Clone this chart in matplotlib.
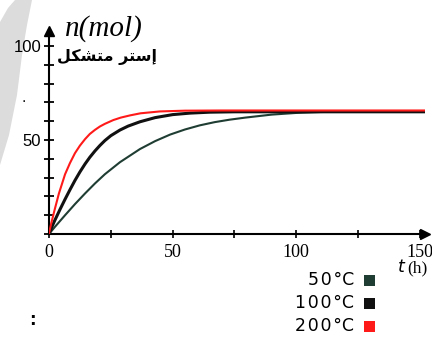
import matplotlib
matplotlib.use("Agg")
import matplotlib.pyplot as plt
from matplotlib.patches import Polygon, Rectangle

# ---- data ----
t_200 = [0, 1, 2.4, 4, 6.5, 8.5, 10.5, 12.5, 14.6, 16.5, 18.6, 20.6, 22.6, 26, 29, 32.8, 37, 44.9, 55, 70, 100, 130, 152]
n_200 = [0.5, 6.2, 13.5, 21.5, 31.8, 37.8, 43, 47, 50.5, 53.2, 55.4, 57.2, 58.6, 60.6, 61.9, 63.1, 64.2, 65.2, 65.6, 65.7, 65.7, 65.7, 65.7]

t_100 = [0, 1, 2.4, 4.5, 6.5, 8.5, 10.5, 12.5, 14.6, 16.5, 18.6, 20.6, 22.6, 25, 28.7, 32, 36.8, 42.9, 50, 57, 65, 75, 100, 152]
n_100 = [0, 3.3, 7.4, 13.2, 18.5, 23.6, 28.5, 33, 37.3, 40.8, 44.2, 47.1, 49.7, 52.3, 55.3, 57.4, 59.7, 61.9, 63.5, 64.3, 64.8, 65, 65, 65]

t_50 = [0, 2.4, 6.5, 10.5, 14.6, 18.6, 22.6, 28.7, 36.8, 42.9, 49, 55, 61, 67, 73, 79.3, 90, 100, 110, 120, 152]
n_50 = [0, 3.8, 10.0, 15.9, 21.6, 26.9, 31.8, 38.2, 45.2, 49.4, 52.9, 55.6, 57.8, 59.5, 60.8, 61.9, 63.5, 64.4, 64.9, 65, 65]

series_labels = ["50°C", "100°C", "200°C"]
series_colors = ["#1f3d33", "#111111", "#ff1a1a"]

x_ticks = [0, 25, 50, 75, 100, 125, 150]
x_ticklabels = ["0", "", "50", "", "100", "", "150"]
y_ticks = [0, 10, 20, 30, 40, 50, 60, 70, 80, 90, 100]
y_ticklabels = ["", "", "", "", "", "50", "", "", "", "", "100"]

W, H = 432, 345
fig = plt.figure(figsize=(W / 100, H / 100), dpi=100)
fig.patch.set_facecolor("white")

def fx(px):
    return px / W

def fy(py):
    return 1 - py / H

# gray watermark-like shape at left edge (behind everything)
shape = [(15, 0), (32, 0), (27, 25), (22, 55), (17, 95), (9, 135), (0, 165), (0, 22), (8, 8)]
fig.patches.append(Polygon([(fx(a), fy(b)) for a, b in shape], closed=True,
                           transform=fig.transFigure, facecolor="#dcdcdc",
                           edgecolor="none", zorder=-5))

x0, y0 = 49, 234
sx, sy = 2.473, 1.88
xmax, ymax = 152, 108
ax = fig.add_axes([fx(x0), fy(y0), xmax * sx / W, ymax * sy / H])
ax.set_zorder(1)
ax.set_facecolor("none")
ax.set_xlim(0, xmax)
ax.set_ylim(0, ymax)

for s in ["top", "right"]:
    ax.spines[s].set_visible(False)
for s in ["left", "bottom"]:
    ax.spines[s].set_linewidth(1.5)
    ax.spines[s].set_color("black")

ax.plot(1, 0, ">", color="black", ms=7, transform=ax.get_yaxis_transform(), clip_on=False)
ax.plot(0, 1, "^", color="black", ms=7, transform=ax.get_xaxis_transform(), clip_on=False)

ax.plot(t_50, n_50, color=series_colors[0], lw=1.5, zorder=3, solid_joinstyle="round")
ax.plot(t_100, n_100, color=series_colors[1], lw=2.2, zorder=4, solid_joinstyle="round")
ax.plot(t_200, n_200, color=series_colors[2], lw=1.5, zorder=5, solid_joinstyle="round")

ax.set_xticks(x_ticks)
ax.set_xticklabels(x_ticklabels, fontfamily="Liberation Serif", fontsize=13)
ax.set_yticks(y_ticks)
ax.set_yticklabels(y_ticklabels, fontfamily="Liberation Sans", fontsize=12)
ax.tick_params(axis="x", direction="inout", length=6, width=1.2, pad=4)
ax.tick_params(axis="y", direction="inout", length=7, width=1.3, pad=2)

# axis titles
fig.text(fx(104), fy(29), "n(mol)", fontfamily="Liberation Serif", style="italic",
         fontsize=21, ha="center", va="center")
arabic = "\uFEDE\uFEDC\uFEB8\uFE98\uFEE3 \uFEAE\uFE98\uFEB3\uFE87"  # إستر متشكل (shaped)
fig.text(fx(107), fy(57), arabic, fontfamily="DejaVu Sans", fontweight="bold",
         fontsize=11.5, ha="center", va="center")
fig.text(fx(397), fy(268), "$t$", fontsize=12.5, ha="left", va="center",
         fontfamily="Liberation Serif")
fig.text(fx(407), fy(268), "(h)", fontsize=12.5, ha="left", va="center",
         fontfamily="Liberation Serif")

# legend
leg_y = [280, 303, 326]
for lab, col, py in zip(series_labels, series_colors, leg_y):
    digits, unit = lab[:-2], lab[-2:]
    spaced = "\u200a".join(digits) + "\u200a" + unit
    fig.text(fx(354), fy(py), spaced, fontfamily="DejaVu Sans", fontsize=12.5,
             ha="right", va="center")
    size = 11
    fig.patches.append(Rectangle((fx(364), fy(py + size / 2)), size / W, size / H,
                                 transform=fig.transFigure, facecolor=col,
                                 edgecolor="none"))

fig.text(fx(32), fy(320), ":", fontsize=12, fontweight="bold", ha="center", va="center")
fig.text(fx(24), fy(98), ".", fontsize=10, ha="center", va="center")

fig.savefig("out.png", dpi=100)
